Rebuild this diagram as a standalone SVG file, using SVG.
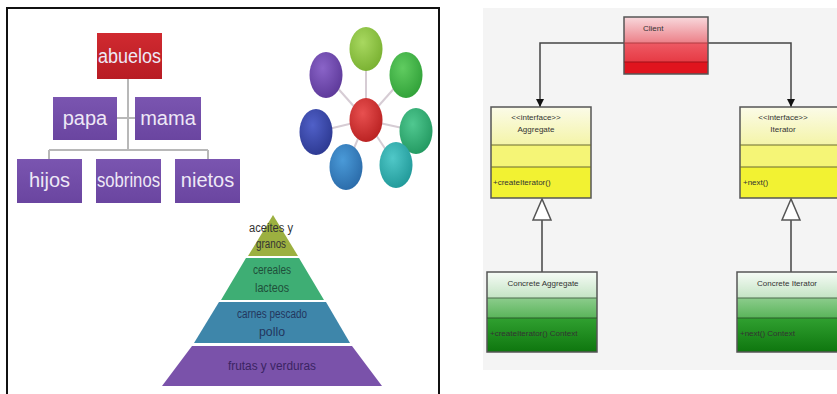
<svg xmlns="http://www.w3.org/2000/svg" width="837" height="394" viewBox="0 0 837 394">
<defs>
<style>
.org{font-family:"Liberation Sans",Arial,sans-serif;font-size:20px;fill:#eee8f6;text-anchor:middle}
.pyr{font-family:"Liberation Sans",Arial,sans-serif;font-size:12px;text-anchor:middle}
.uml{font-family:"Liberation Sans",Arial,sans-serif;font-size:8px;fill:#333}
.umlc{font-family:"Liberation Sans",Arial,sans-serif;font-size:8px;fill:#333;text-anchor:middle}
.ubox{stroke:#555;stroke-width:1.5}
.conn{fill:none;stroke:#444;stroke-width:1.5}
.spoke{stroke:#d6ccd4;stroke-width:2}
.orgline{stroke:#b8b8b8;stroke-width:2;fill:none}
</style>
<linearGradient id="purp" x1="0" y1="0" x2="0" y2="1"><stop offset="0" stop-color="#7a55b0"/><stop offset="1" stop-color="#6a45a0"/></linearGradient>
<linearGradient id="redg" x1="0" y1="0" x2="0" y2="1"><stop offset="0" stop-color="#d02a30"/><stop offset="1" stop-color="#b81c24"/></linearGradient>
<linearGradient id="clientTop" x1="0" y1="0" x2="0" y2="1"><stop offset="0" stop-color="#f8d8dc"/><stop offset="1" stop-color="#ec8088"/></linearGradient>
<linearGradient id="clientMid" x1="0" y1="0" x2="0" y2="1"><stop offset="0" stop-color="#ee5a64"/><stop offset="1" stop-color="#e63a44"/></linearGradient>
<linearGradient id="yTop" x1="0" y1="0" x2="0" y2="1"><stop offset="0" stop-color="#fbfbe8"/><stop offset="1" stop-color="#f4f4a8"/></linearGradient>
<linearGradient id="gTop" x1="0" y1="0" x2="0" y2="1"><stop offset="0" stop-color="#f6fbf6"/><stop offset="1" stop-color="#c4e4c4"/></linearGradient>
<linearGradient id="gMid" x1="0" y1="0" x2="0" y2="1"><stop offset="0" stop-color="#8ccc8c"/><stop offset="1" stop-color="#5ab45a"/></linearGradient>
<linearGradient id="gBot" x1="0" y1="0" x2="0" y2="1"><stop offset="0" stop-color="#30a030"/><stop offset="1" stop-color="#0e760e"/></linearGradient>
<radialGradient id="c1" cx="0.4" cy="0.35" r="0.7"><stop offset="0" stop-color="#a8d860"/><stop offset="1" stop-color="#78b030"/></radialGradient>
<radialGradient id="c2" cx="0.4" cy="0.35" r="0.7"><stop offset="0" stop-color="#60cc60"/><stop offset="1" stop-color="#30a038"/></radialGradient>
<radialGradient id="c3" cx="0.4" cy="0.35" r="0.7"><stop offset="0" stop-color="#50c890"/><stop offset="1" stop-color="#229860"/></radialGradient>
<radialGradient id="c4" cx="0.4" cy="0.35" r="0.7"><stop offset="0" stop-color="#50c8c8"/><stop offset="1" stop-color="#209898"/></radialGradient>
<radialGradient id="c5" cx="0.4" cy="0.35" r="0.7"><stop offset="0" stop-color="#4a9ad8"/><stop offset="1" stop-color="#2a6aa8"/></radialGradient>
<radialGradient id="c6" cx="0.4" cy="0.35" r="0.7"><stop offset="0" stop-color="#5060c8"/><stop offset="1" stop-color="#2c3890"/></radialGradient>
<radialGradient id="c7" cx="0.4" cy="0.35" r="0.7"><stop offset="0" stop-color="#8a64c8"/><stop offset="1" stop-color="#5c3898"/></radialGradient>
<radialGradient id="c0" cx="0.4" cy="0.35" r="0.7"><stop offset="0" stop-color="#e85050"/><stop offset="1" stop-color="#b82020"/></radialGradient>
<marker id="arrowFill" viewBox="0 0 10 10" refX="10" refY="5" markerWidth="8" markerHeight="8" orient="auto" markerUnits="userSpaceOnUse"><path d="M0,0 L10,5 L0,10 z" fill="#111"/></marker>
</defs>
<rect width="837" height="394" fill="#ffffff"/>

<!-- left panel frame -->
<path d="M7,394 V8 H439 V394" fill="none" stroke="#111" stroke-width="2"/>

<!-- right panel background -->
<rect x="483" y="8" width="354" height="362" fill="#f4f4f4"/>

<g id="connectors">
  <!-- org chart -->
  <path class="orgline" d="M128,79 V150 M117,118 H135 M49,150 H208 M49,150 V159 M208,150 V159"/>
  <!-- cycle spokes -->
  <g class="spoke">
    <line x1="366" y1="120" x2="366" y2="49"/>
    <line x1="366" y1="120" x2="406" y2="75"/>
    <line x1="366" y1="120" x2="416" y2="131"/>
    <line x1="366" y1="120" x2="396" y2="165"/>
    <line x1="366" y1="120" x2="346" y2="167"/>
    <line x1="366" y1="120" x2="316" y2="132"/>
    <line x1="366" y1="120" x2="326" y2="75"/>
  </g>
  <!-- UML associations -->
  <path class="conn" d="M624,43 H540 V107" marker-end="url(#arrowFill)"/>
  <path class="conn" d="M708,43 H791 V107" marker-end="url(#arrowFill)"/>
  <!-- UML generalizations -->
  <path class="conn" d="M542,220 V272"/>
  <path d="M542,199 L533,220 L551,220 z" fill="#fff" stroke="#555" stroke-width="1.5"/>
  <path class="conn" d="M791,220 V272"/>
  <path d="M791,199 L782,220 L800,220 z" fill="#fff" stroke="#555" stroke-width="1.5"/>
</g>

<!-- org chart nodes -->
<g id="abuelos">
  <rect x="97" y="33" width="65" height="46" fill="url(#redg)"/>
  <text class="org" x="129.5" y="63" textLength="63" lengthAdjust="spacingAndGlyphs" fill="#fff">abuelos</text>
</g>
<g id="papa">
  <rect x="53" y="97" width="64" height="43" fill="url(#purp)"/>
  <text class="org" x="85" y="125">papa</text>
</g>
<g id="mama">
  <rect x="135" y="97" width="66" height="43" fill="url(#purp)"/>
  <text class="org" x="168" y="125">mama</text>
</g>
<g id="hijos">
  <rect x="17" y="159" width="65" height="44" fill="url(#purp)"/>
  <text class="org" x="49.5" y="187">hijos</text>
</g>
<g id="sobrinos">
  <rect x="96" y="159" width="65" height="44" fill="url(#purp)"/>
  <text class="org" x="128.5" y="187" textLength="63" lengthAdjust="spacingAndGlyphs">sobrinos</text>
</g>
<g id="nietos">
  <rect x="175" y="159" width="65" height="44" fill="url(#purp)"/>
  <text class="org" x="207.5" y="187">nietos</text>
</g>

<!-- cycle nodes -->
<g id="cycle">
  <ellipse id="c-top" cx="366" cy="49" rx="16.5" ry="22" fill="url(#c1)"/>
  <ellipse id="c-ur" cx="406" cy="75" rx="16.5" ry="23" fill="url(#c2)"/>
  <ellipse id="c-r" cx="416" cy="131" rx="16.5" ry="23" fill="url(#c3)"/>
  <ellipse id="c-lr" cx="396" cy="165" rx="16.5" ry="23" fill="url(#c4)"/>
  <ellipse id="c-ll" cx="346" cy="167" rx="16.5" ry="23" fill="url(#c5)"/>
  <ellipse id="c-l" cx="316" cy="132" rx="16.5" ry="23" fill="url(#c6)"/>
  <ellipse id="c-ul" cx="326" cy="75" rx="16.5" ry="23" fill="url(#c7)"/>
  <ellipse id="c-center" cx="366" cy="120" rx="16.5" ry="22" fill="url(#c0)"/>
</g>

<!-- pyramid -->
<g id="pyr-top">
  <path d="M273,215 L298,256 L248,256 z" fill="#9cb040"/>
  <text class="pyr" x="271" y="232" fill="#333" textLength="44" lengthAdjust="spacingAndGlyphs">aceites y</text>
  <text class="pyr" x="271" y="248" fill="#333" textLength="30" lengthAdjust="spacingAndGlyphs">granos</text>
</g>
<g id="pyr-2">
  <path d="M246,258 L299,258 L324,300 L221,300 z" fill="#3eae74"/>
  <text class="pyr" x="272" y="274" fill="#1f4f3a" textLength="38" lengthAdjust="spacingAndGlyphs">cereales</text>
  <text class="pyr" x="272" y="292" fill="#1f4f3a" textLength="34" lengthAdjust="spacingAndGlyphs">lacteos</text>
</g>
<g id="pyr-3">
  <path d="M219,302 L326,302 L350,343 L194,343 z" fill="#3e86aa"/>
  <text class="pyr" x="272" y="318" fill="#23365e" textLength="70" lengthAdjust="spacingAndGlyphs">carnes pescado</text>
  <text class="pyr" x="272" y="336" fill="#23365e" textLength="26" lengthAdjust="spacingAndGlyphs">pollo</text>
</g>
<g id="pyr-4">
  <path d="M192,346 L352,346 L382,386 L162,386 z" fill="#7a52aa"/>
  <text class="pyr" x="272" y="370" fill="#3a2462" textLength="88" lengthAdjust="spacingAndGlyphs">frutas y verduras</text>
</g>

<!-- UML nodes -->
<g id="client">
  <rect x="624" y="17" width="84" height="26" fill="url(#clientTop)"/>
  <rect x="624" y="43" width="84" height="19" fill="url(#clientMid)"/>
  <rect x="624" y="62" width="84" height="12" fill="#e0141e"/>
  <rect class="ubox" x="624" y="17" width="84" height="57" fill="none"/>
  <line x1="624" y1="43" x2="708" y2="43" stroke="#b03a40" stroke-width="1"/>
  <line x1="624" y1="62" x2="708" y2="62" stroke="#a01018" stroke-width="1"/>
  <text class="uml" x="643" y="31">Client</text>
</g>
<g id="aggregate">
  <rect x="491" y="107" width="100" height="38" fill="url(#yTop)"/>
  <rect x="491" y="145" width="100" height="22" fill="#f5f576"/>
  <rect x="491" y="167" width="100" height="31" fill="#f2f232"/>
  <rect class="ubox" x="491" y="107" width="100" height="91" fill="none"/>
  <line x1="491" y1="145" x2="591" y2="145" stroke="#6a6a30" stroke-width="1.2"/>
  <line x1="491" y1="167" x2="591" y2="167" stroke="#6a6a30" stroke-width="1.2"/>
  <text class="umlc" x="536" y="120">&lt;&lt;interface&gt;&gt;</text>
  <text class="umlc" x="536" y="132">Aggregate</text>
  <text class="uml" x="493" y="185">+createIterator()</text>
</g>
<g id="iterator">
  <rect x="740" y="107" width="100" height="38" fill="url(#yTop)"/>
  <rect x="740" y="145" width="100" height="22" fill="#f5f576"/>
  <rect x="740" y="167" width="100" height="31" fill="#f2f232"/>
  <rect class="ubox" x="740" y="107" width="100" height="91" fill="none"/>
  <line x1="740" y1="145" x2="840" y2="145" stroke="#6a6a30" stroke-width="1.2"/>
  <line x1="740" y1="167" x2="840" y2="167" stroke="#6a6a30" stroke-width="1.2"/>
  <text class="umlc" x="783" y="120">&lt;&lt;interface&gt;&gt;</text>
  <text class="umlc" x="783" y="132">Iterator</text>
  <text class="uml" x="743" y="185">+next()</text>
</g>
<g id="concrete-aggregate">
  <rect x="487" y="272" width="110" height="26" fill="url(#gTop)"/>
  <rect x="487" y="298" width="110" height="20" fill="url(#gMid)"/>
  <rect x="487" y="318" width="110" height="34" fill="url(#gBot)"/>
  <rect class="ubox" x="487" y="272" width="110" height="80" fill="none"/>
  <line x1="487" y1="298" x2="597" y2="298" stroke="#4a6a4a" stroke-width="1"/>
  <line x1="487" y1="318" x2="597" y2="318" stroke="#2a5a2a" stroke-width="1"/>
  <text class="umlc" x="543" y="286">Concrete Aggregate</text>
  <text class="uml" x="490" y="336" fill="#1a3a1a">+createIterator() Context</text>
</g>
<g id="concrete-iterator">
  <rect x="737" y="272" width="105" height="26" fill="url(#gTop)"/>
  <rect x="737" y="298" width="105" height="20" fill="url(#gMid)"/>
  <rect x="737" y="318" width="105" height="34" fill="url(#gBot)"/>
  <rect class="ubox" x="737" y="272" width="105" height="80" fill="none"/>
  <line x1="737" y1="298" x2="842" y2="298" stroke="#4a6a4a" stroke-width="1"/>
  <line x1="737" y1="318" x2="842" y2="318" stroke="#2a5a2a" stroke-width="1"/>
  <text class="umlc" x="787" y="286">Concrete Iterator</text>
  <text class="uml" x="740" y="336" fill="#1a3a1a">+next() Context</text>
</g>
</svg>
